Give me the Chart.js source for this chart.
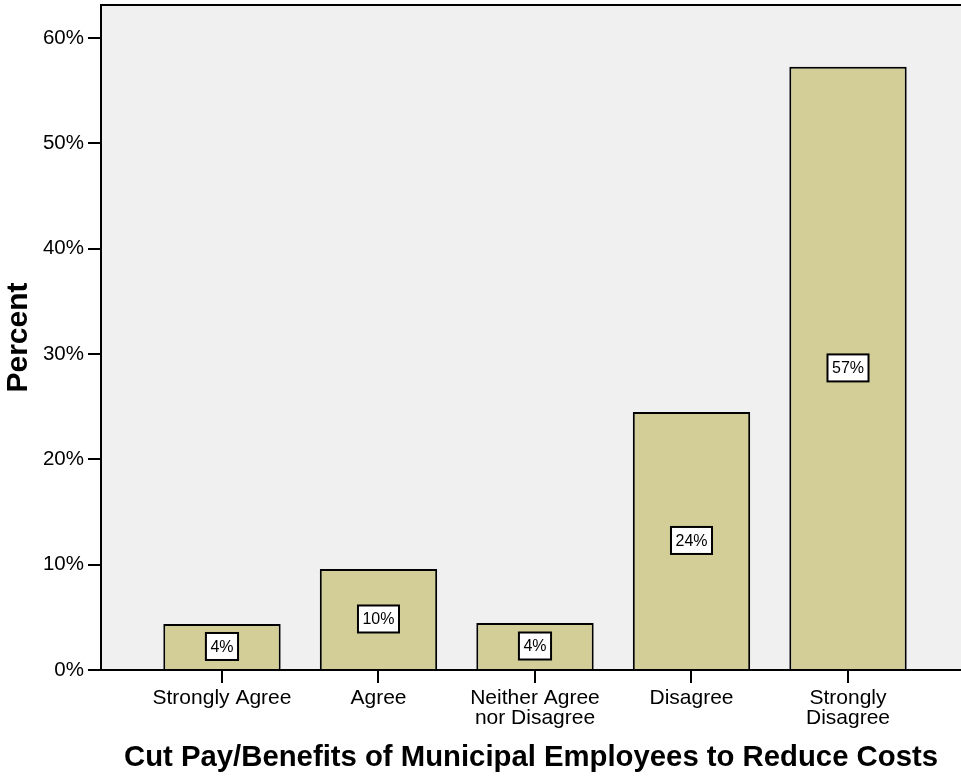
<!DOCTYPE html>
<html>
<head>
<meta charset="utf-8">
<script src="https://cdn.jsdelivr.net/npm/chart.js@4/dist/chart.umd.min.js"></script>
<style>
  html, body { margin: 0; padding: 0; background: #fff; overflow: hidden; }
  #wrap { width: 961px; height: 776px; }
</style>
</head>
<body>
<div id="wrap"><canvas id="chart" width="961" height="776"></canvas></div>
<script>
// Survey responses: percent of respondents per answer
const categories = ['Strongly Agree', 'Agree', ['Neither Agree', 'nor Disagree'], 'Disagree', ['Strongly', 'Disagree']];
const percents = [4.37, 9.59, 4.46, 24.5, 57.26];
const percentLabels = ['4%', '10%', '4%', '24%', '57%'];
const yTicks = [0, 10, 20, 30, 40, 50, 60];

const FONT = 'Arial, "Liberation Sans", Helvetica, sans-serif';

// plot background + top frame line
const plotFrame = {
    id: 'plotFrame',
    beforeDraw(chart) {
        const { ctx, chartArea: a } = chart;
        ctx.save();
        ctx.fillStyle = '#f0f0f0';
        ctx.fillRect(a.left, a.top, a.right - a.left, a.bottom - a.top);
        ctx.strokeStyle = '#000';
        ctx.lineWidth = 2;
        ctx.beginPath();
        ctx.moveTo(a.left, a.top);
        ctx.lineTo(a.right + 10, a.top);
        ctx.stroke();
        ctx.restore();
    }
};

// boxed value label in the middle of each bar
const barLabels = {
    id: 'barLabels',
    afterDatasetsDraw(chart) {
        const { ctx } = chart;
        const meta = chart.getDatasetMeta(0);
        ctx.save();
        ctx.font = '16px ' + FONT;
        ctx.textAlign = 'center';
        ctx.textBaseline = 'middle';
        meta.data.forEach((bar, i) => {
            const txt = percentLabels[i];
            const cx = bar.x;
            const cy = (bar.y + bar.base) / 2;
            const w = ctx.measureText(txt).width + 9;
            const h = 27;
            ctx.fillStyle = '#fff';
            ctx.fillRect(cx - w / 2, cy - h / 2, w, h);
            ctx.strokeStyle = '#000';
            ctx.lineWidth = 2;
            ctx.strokeRect(cx - w / 2, cy - h / 2, w, h);
            ctx.fillStyle = '#000';
            ctx.fillText(txt, cx, cy + 1);
        });
        ctx.restore();
    }
};

new Chart(document.getElementById('chart'), {
    type: 'bar',
    data: {
        datasets: [{
            data: percents.map((v, i) => ({ x: i, y: v })),
            backgroundColor: '#d3ce97',
            borderColor: '#000',
            borderWidth: 2,
            borderSkipped: 'bottom',
            barPercentage: 0.75,
            categoryPercentage: 1.0
        }]
    },
    options: {
        responsive: false,
        animation: false,
        devicePixelRatio: 1,
        layout: { padding: { top: 5, right: 0, left: 0, bottom: 0 } },
        plugins: { legend: { display: false }, tooltip: { enabled: false } },
        scales: {
            x: {
                type: 'linear',
                offset: false,
                min: -0.773,
                max: 4.722,
                afterBuildTicks(scale) { scale.ticks = categories.map((_, i) => ({ value: i })); },
                afterFit(scale) { scale.height = 106; scale.paddingLeft = 0; scale.paddingRight = 0; },
                ticks: {
                    callback: (v) => categories[v],
                    color: '#000',
                    font: { family: FONT, size: 21, lineHeight: 0.97 },
                    padding: 5,
                    maxRotation: 0,
                    autoSkip: false
                },
                grid: { offset: false, drawOnChartArea: false, drawTicks: true, tickLength: 13, color: '#000', lineWidth: 2 },
                border: { color: '#000', width: 2 },
                title: {
                    display: true,
                    text: 'Cut Pay/Benefits of Municipal Employees to Reduce Costs',
                    color: '#000',
                    font: { family: FONT, size: 29.3, weight: 'bold' },
                    padding: { top: 4, bottom: 1 }
                }
            },
            y: {
                min: 0,
                max: 63.13,
                afterBuildTicks(scale) { scale.ticks = yTicks.map(v => ({ value: v })); },
                afterFit(scale) { scale.width = 101; scale.paddingTop = 0; scale.paddingBottom = 0; },
                ticks: {
                    callback: (v) => v + '%',
                    color: '#000',
                    font: { family: FONT, size: 20.5 },
                    padding: 4
                },
                grid: { drawOnChartArea: false, drawTicks: true, tickLength: 13, color: '#000', lineWidth: 2 },
                border: { color: '#000', width: 2 },
                title: {
                    display: true,
                    text: 'Percent',
                    color: '#000',
                    font: { family: FONT, size: 30, weight: 'bold' },
                    padding: { top: 1, bottom: 0 }
                }
            }
        }
    },
    plugins: [plotFrame, barLabels]
});
</script>
</body>
</html>
